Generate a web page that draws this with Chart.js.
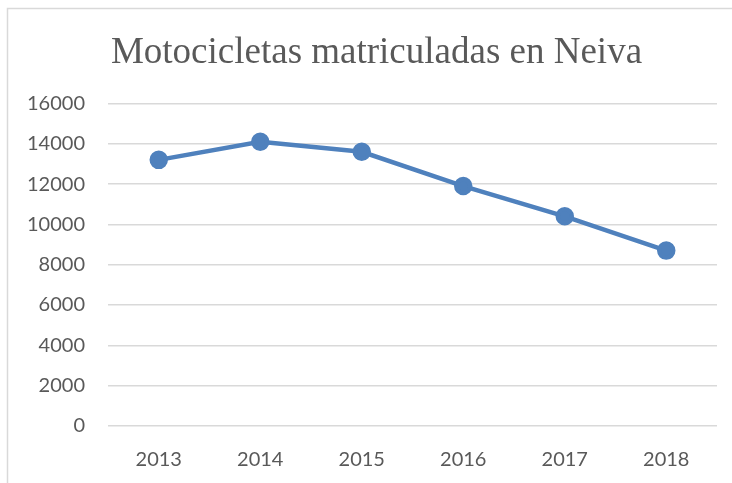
<!DOCTYPE html>
<html>
<head>
<meta charset="utf-8">
<script src="https://cdn.jsdelivr.net/npm/chart.js@4"></script>
<style>
  html, body { margin: 0; padding: 0; background: #fff; }
  #wrap { width: 732px; height: 483px; }
</style>
</head>
<body>
<div id="wrap"><canvas id="chart" width="732" height="483"></canvas></div>
<script>
const years = ["2013", "2014", "2015", "2016", "2017", "2018"];
const motos = [13200, 14100, 13600, 11900, 10400, 8700];
const yTicks = [0, 2000, 4000, 6000, 8000, 10000, 12000, 14000, 16000];

// light frame on the left and top, and the title pushed a bit to the right
const frame = {
  id: "frame",
  afterLayout(chart) {
    const t = chart.titleBlock;
    if (t) { t.left += 18; t.right += 18; }
  },
  beforeDraw(chart) {
    const c = chart.ctx;
    c.save();
    c.fillStyle = "#fff";
    c.fillRect(0, 0, chart.width, chart.height);
    c.strokeStyle = "#d9d9d9";
    c.lineWidth = 1.5;
    c.beginPath();
    c.moveTo(7.5, chart.height);
    c.lineTo(7.5, 8.5);
    c.lineTo(chart.width, 8.5);
    c.stroke();
    c.restore();
  },
};

new Chart(document.getElementById("chart"), {
  type: "line",
  data: {
    labels: years,
    datasets: [{
      data: motos,
      borderColor: "#4f81bd",
      backgroundColor: "#4f81bd",
      borderWidth: 4.5,
      pointRadius: 7,
      pointHoverRadius: 7,
      tension: 0,
    }],
  },
  options: {
    responsive: false,
    animation: false,
    layout: { padding: { left: 0, right: 15, top: 0, bottom: 0 } },
    plugins: {
      legend: { display: false },
      tooltip: { enabled: false },
      title: {
        display: true,
        text: "Motocicletas matriculadas en Neiva",
        color: "#595959",
        font: { family: "Liberation Serif", size: 37, weight: "normal", lineHeight: 1.2 },
        padding: { top: 31, bottom: 28 },
      },
    },
    scales: {
      x: {
        offset: true,
        grid: { display: false },
        border: { display: false },
        ticks: { color: "#595959", font: { family: "Lato", size: 20 }, padding: 14 },
        afterFit(s) { s.height = 57; },
      },
      y: {
        min: 0,
        max: 16000,
        afterBuildTicks(s) { s.ticks = yTicks.map(v => ({ value: v })); },
        grid: { color: "#d9d9d9", lineWidth: 1.5, drawTicks: false },
        border: { display: false },
        ticks: {
          color: "#595959",
          font: { family: "Lato", size: 20 },
          padding: 23,
          callback: v => String(v),
        },
        afterFit(s) { s.width = 108; },
      },
    },
  },
  plugins: [frame],
});
</script>
</body>
</html>
